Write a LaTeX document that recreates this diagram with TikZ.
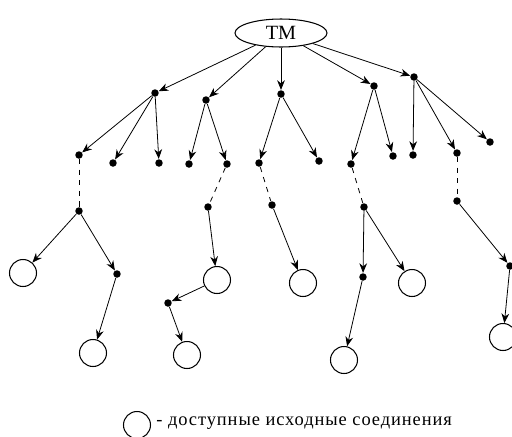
\documentclass[tikz,border=0pt]{standalone}
\usepackage{fontspec}
\setmainfont{Liberation Serif}
\newfontfamily\legendfont[LetterSpace=5]{Liberation Serif}
\usetikzlibrary{arrows.meta,shapes.geometric}

\begin{document}
\begin{tikzpicture}[x=0.02cm,y=-0.02cm,
  pt/.style={circle,fill,inner sep=0pt,minimum size=0.15cm},
  src/.style={circle,draw,line width=0.6pt,inner sep=0pt,minimum size=0.54cm},
  edge/.style={-{Stealth[length=5.5pt,width=4.4pt]},line width=0.45pt},
  link/.style={dashed,line width=0.45pt}]
\useasboundingbox (0,0) rectangle (512,437);
\node [ellipse,draw,line width=0.6pt,inner sep=0pt,minimum width=1.84cm,
  minimum height=0.56cm,font=\fontsize{11.5}{13}\selectfont] (tm) at (281,33) {TM};
% first level
\node [pt] (a1) at (155,93) {};
\node [pt] (a2) at (206,100) {};
\node [pt] (a3) at (281,94) {};
\node [pt] (a4) at (374,86) {};
\node [pt] (a5) at (414,77) {};
\foreach \n in {a1,a2,a3,a4,a5} \draw [edge] (tm) -- (\n);
% second level
\node [pt] (b1) at (79,155) {};
\node [pt] (b2) at (113,163) {};
\node [pt] (b3) at (159,163) {};
\node [pt] (b4) at (189,164) {};
\node [pt] (b5) at (227,164) {};
\node [pt] (b6) at (259,163) {};
\node [pt] (b7) at (319,161) {};
\node [pt] (b8) at (351,164) {};
\node [pt] (b9) at (393,156) {};
\node [pt] (b10) at (413,155) {};
\node [pt] (b11) at (457,153) {};
\node [pt] (b12) at (490,142) {};
\foreach \s/\t in {a1/b1,a1/b2,a1/b3,a2/b4,a2/b5,a3/b6,a3/b7,a4/b8,a4/b9,
  a5/b10,a5/b11,a5/b12}
  \draw [edge] (\s) -- (\t);
% dashed steps
\node [pt] (c1) at (79,211) {};
\node [pt] (c2) at (208,207) {};
\node [pt] (c3) at (272,205) {};
\node [pt] (c4) at (364,207) {};
\node [pt] (c5) at (457,201) {};
\foreach \s/\t in {b1/c1,b5/c2,b6/c3,b8/c4,b11/c5}
  \draw [link] (\s) -- (\t);
% lower part
\node [pt] (d1) at (117,274) {};
\node [pt] (d2) at (168,303) {};
\node [pt] (d3) at (363,277) {};
\node [pt] (d4) at (510,266) {};
\node [src] (o1) at (23,273) {};
\node [src] (o2) at (93,353) {};
\node [src] (o3) at (217,280) {};
\node [src] (o4) at (187,355) {};
\node [src] (o5) at (303,283) {};
\node [src] (o6) at (412,283) {};
\node [src] (o7) at (344,360) {};
\node [src] (o8) at (503,337) {};
\foreach \s/\t in {c1/o1,c1/d1,d1/o2,c2/o3,o3/d2,d2/o4,c3/o5,c4/d3,c4/o6,
  d3/o7,c5/d4,d4/o8}
  \draw [edge] (\s) -- (\t);
% legend
\node [src] (key) at (137,425) {};
\node [anchor=west,inner sep=0pt,font=\legendfont\fontsize{10.5}{12}\selectfont]
  (keytext) at (156,423) {- доступные исходные соединения};
\end{tikzpicture}
\end{document}
